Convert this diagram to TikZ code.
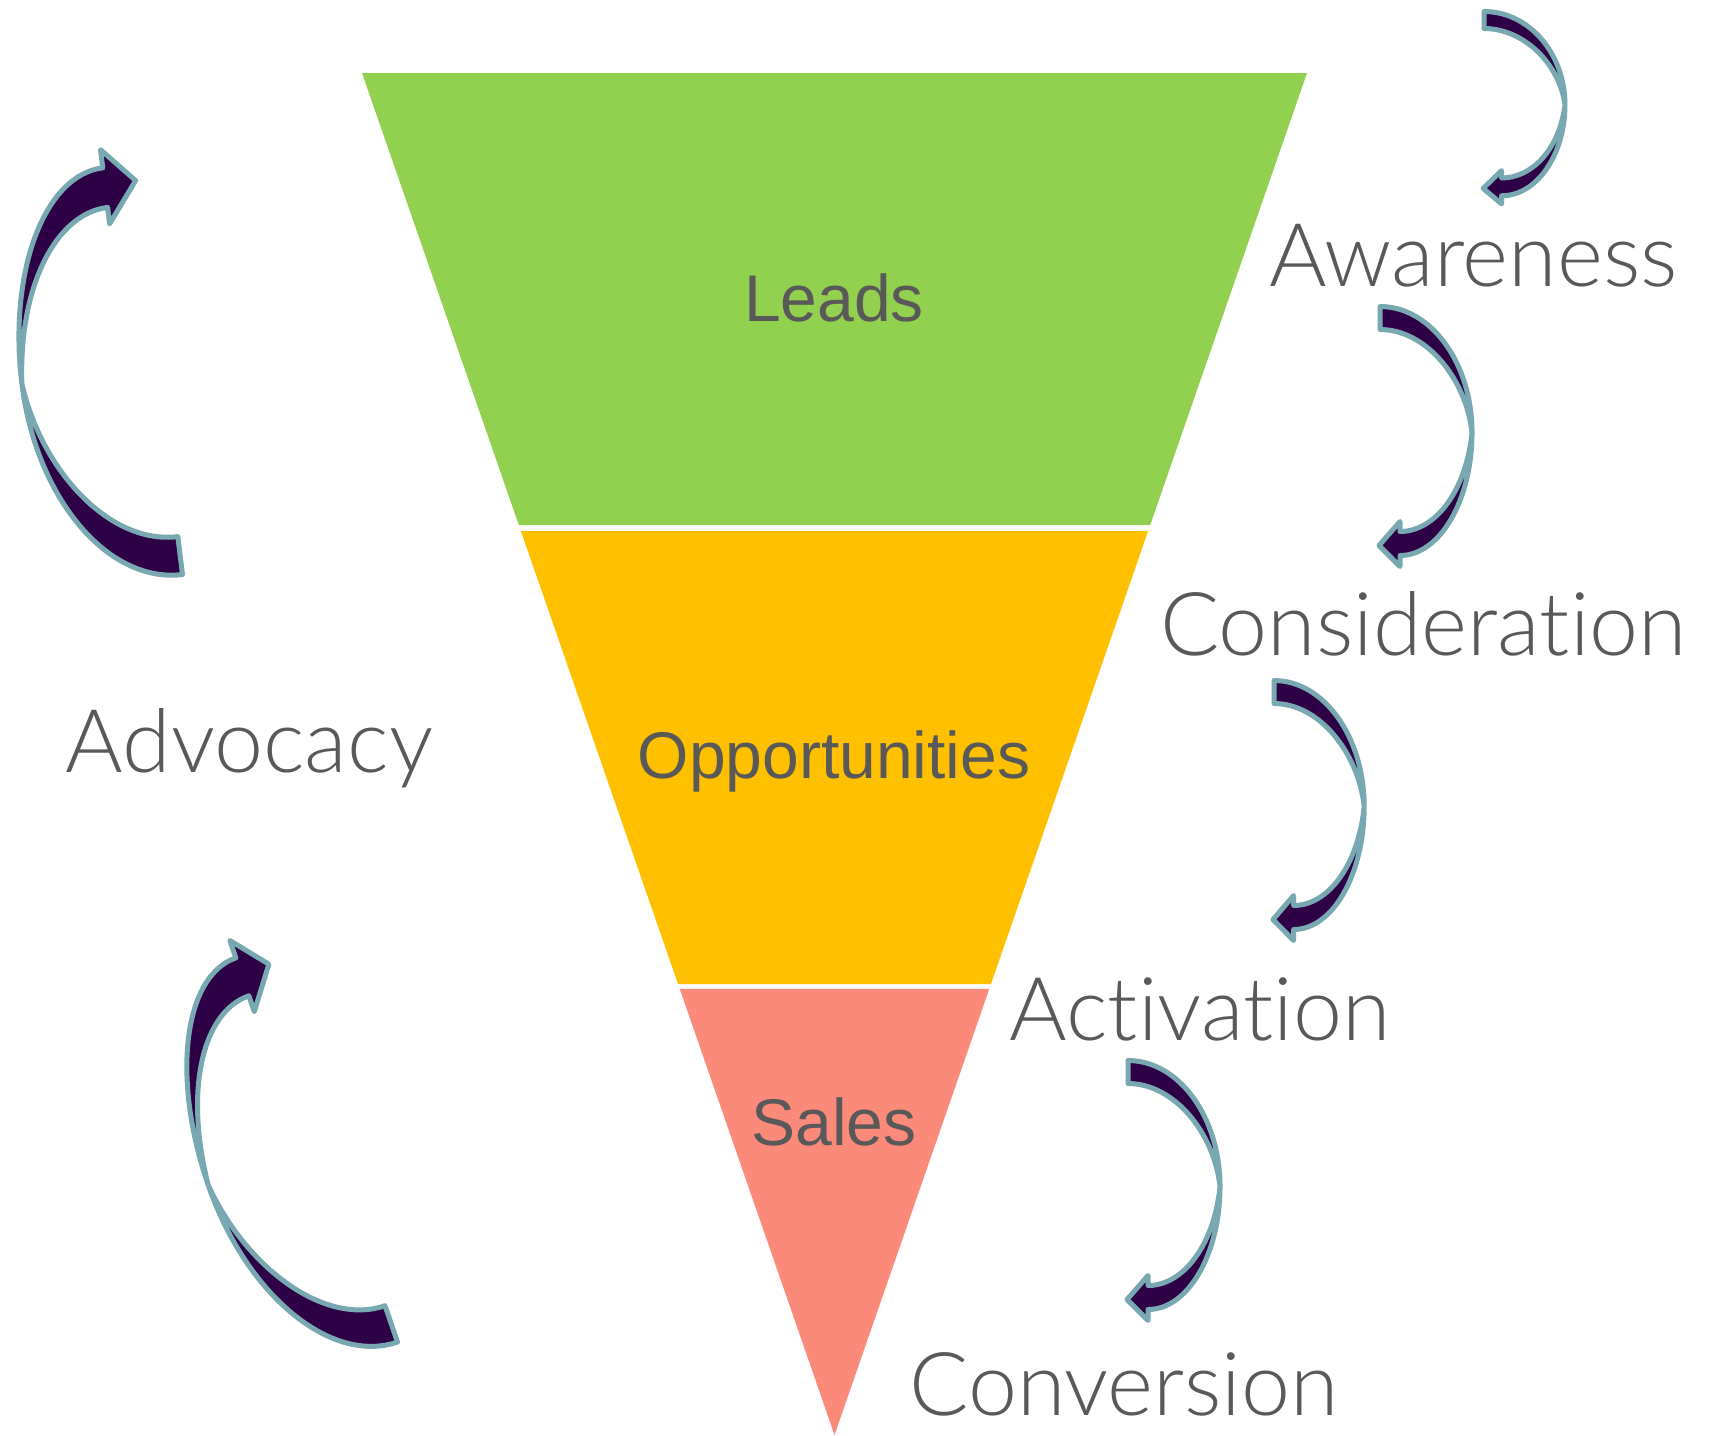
\documentclass[tikz,border=0pt]{standalone}
\usepackage{fontspec}
\setmainfont{Liberation Sans}
\newfontfamily\stagefont{Lato Light}[Ligatures=NoCommon]
\usepackage{tikz}
\usetikzlibrary{calc}

\definecolor{leadgreen}{RGB}{146,208,80}
\definecolor{oppamber}{RGB}{255,192,0}
\definecolor{salesred}{RGB}{252,138,122}
\definecolor{labelgray}{RGB}{89,89,89}
\definecolor{bowfill}{RGB}{46,0,70}
\definecolor{bowedge}{RGB}{120,168,178}

\begin{document}
\begin{tikzpicture}[
  x=0.5pt,y=-0.5pt,
  level/.style={text=labelgray,font=\fontsize{33}{40}\selectfont,anchor=base},
  stage/.style={text=labelgray,font=\stagefont\fontsize{44}{53}\selectfont,anchor=base},
  bow/.style={fill=bowfill,draw=bowedge,line width=2.5pt,line join=round}
]
\useasboundingbox (0,0) rectangle (1716,1435);
\coordinate (tl) at (362,73);
\coordinate (tr) at (1307,73);
\coordinate (apex) at (834.5,1435);

% funnel bands
\fill[leadgreen] (tl) -- (tr) -- ($(tr)!0.3319!(apex)$) -- ($(tl)!0.3319!(apex)$) -- cycle;
\fill[oppamber] ($(tl)!0.3363!(apex)$) -- ($(tr)!0.3363!(apex)$)
  -- ($(tr)!0.6689!(apex)$) -- ($(tl)!0.6689!(apex)$) -- cycle;
\fill[salesred] ($(tl)!0.6725!(apex)$) -- ($(tr)!0.6725!(apex)$) -- (apex) -- cycle;

\node[level] (leads) at (834,321) {Leads};
\node[level] (opps) at (834,778) {Opportunities};
\node[level] (sales) at (834,1145) {Sales};

\node[stage] (aware) at (1473.5,286) {Awareness};
\node[stage] (consid) at (1423.5,655) {Consideration};
\node[stage] (activ) at (1200,1040) {Activation};
\node[stage] (conv) at (1124,1415) {Conversion};
\node[stage] (advoc) at (249.5,772) {Advocacy};

% curved arrows
\foreach \ax/\ay/\rot/\sx/\sy in {1484/11.5/0/0.88/0.74, 1380/306.5/0/1/1,
    1274/680.5/0/0.98/1, 1128/1060.5/0/1/1,
    182.5/574.5/187/1.48/1.66, 397.5/1342/199/1.39/1.67}
  \draw[bow,shift={(\ax,\ay)},rotate=\rot,xscale=\sx,yscale=\sy]
    (0,0) .. controls (50.8,0) and (92,56.4) .. (92,126)
    .. controls (92,193.9) and (59.8,249) .. (20,249)
    -- (20,260) -- (-1,239) -- (20,215) -- (20,225)
    .. controls (55,225) and (86,185) .. (92,126)
    .. controls (86,72) and (46,23) .. (0,23) -- cycle;
\end{tikzpicture}
\end{document}
